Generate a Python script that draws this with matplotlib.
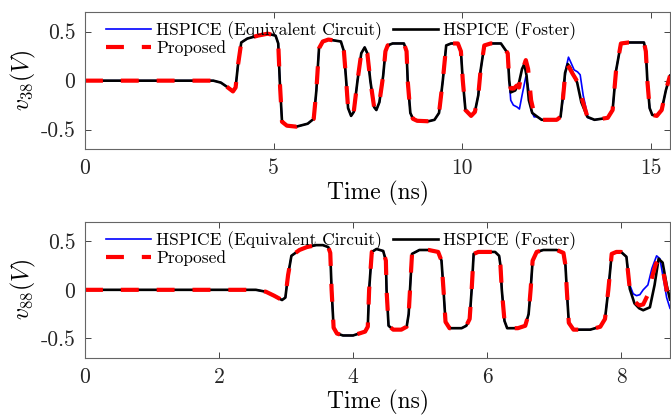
import numpy as np
import matplotlib
matplotlib.use("Agg")
import matplotlib.pyplot as plt

plt.rcParams["font.family"] = ["cmr10", "DejaVu Serif"]
plt.rcParams["mathtext.fontset"] = "cm"
plt.rcParams["axes.unicode_minus"] = False

# ---- upper panel: v38, HSPICE (Foster) trace ----
t38 = [0, 3.4, 3.6, 3.75, 3.92, 3.99, 4.05, 4.14, 4.3, 4.58, 4.84, 5.05, 5.12, 5.16,
       5.22, 5.35, 5.6, 5.9, 6.06, 6.13, 6.2, 6.3, 6.45, 6.78, 6.86, 6.92, 6.97, 7.05,
       7.12, 7.22, 7.32, 7.41, 7.48, 7.56, 7.66, 7.72, 7.8, 7.9, 7.96, 8.02, 8.15, 8.45,
       8.52, 8.55, 8.62, 8.69, 8.8, 9.1, 9.26, 9.38, 9.48, 9.57, 9.7, 9.88, 9.96, 10.01,
       10.08, 10.23, 10.33, 10.42, 10.48, 10.58, 10.75, 11.02, 11.2, 11.24, 11.28, 11.4,
       11.5, 11.58, 11.64, 11.7, 11.76, 11.85, 11.99, 12.1, 12.5, 12.6, 12.65, 12.72,
       12.79, 12.85, 12.92, 13.04, 13.15, 13.31, 13.5, 13.85, 13.98, 14.07, 14.2, 14.4,
       14.81, 14.86, 14.9, 14.96, 15.03, 15.15, 15.28, 15.39, 15.5]
v38_foster = [0, 0, -0.02, -0.06, -0.11, -0.07, 0.15, 0.39, 0.43, 0.46, 0.48, 0.46, 0.38, 0.0,
              -0.42, -0.46, -0.47, -0.44, -0.39, -0.1, 0.33, 0.40, 0.42, 0.40, 0.30, 0.0, -0.28, -0.36,
              -0.32, 0.0, 0.28, 0.34, 0.28, 0.0, -0.27, -0.30, -0.22, 0.05, 0.30, 0.36, 0.38, 0.38,
              0.30, 0.0, -0.33, -0.39, -0.41, -0.415, -0.40, -0.33, 0.0, 0.36, 0.38, 0.38, 0.30, 0.0,
              -0.30, -0.36, -0.32, -0.15, 0.1, 0.36, 0.38, 0.38, 0.28, 0.0, -0.12, -0.10,
              -0.02, 0.12, 0.17, 0.05, -0.2, -0.33, -0.37, -0.40, -0.40, -0.37, -0.2, 0.08,
              0.17, 0.14, 0.08, -0.02, -0.22, -0.37, -0.40, -0.38, -0.3, 0.1, 0.38, 0.39,
              0.39, 0.30, 0.0, -0.28, -0.35, -0.36, -0.30, -0.1, 0.05]

# where the other two traces leave the Foster one
t38_equiv_dev = [11.24, 11.28, 11.35, 11.45, 11.51, 11.58, 11.68, 11.74, 11.82, 11.9,
                 12.6, 12.66, 12.74, 12.81, 12.88, 12.96, 13.05, 13.12, 13.2, 13.33]
v38_equiv_dev = [0.0, -0.2, -0.25, -0.27, -0.29, -0.15, 0.04, -0.05, -0.3, -0.37,
                 -0.37, -0.2, 0.12, 0.24, 0.18, 0.11, 0.09, 0.06, -0.15, -0.38]
t38_prop_dev = [11.24, 11.28, 11.36, 11.44, 11.5, 11.58, 11.68, 11.74, 11.82, 11.92,
                12.6, 12.66, 12.72, 12.78, 12.85, 12.92, 13.0, 13.07, 13.18, 13.32]
v38_prop_dev = [0.0, -0.08, -0.08, -0.05, -0.07, 0.1, 0.21, 0.12, -0.2, -0.37,
                -0.37, -0.2, 0.05, 0.16, 0.12, 0.07, 0.02, -0.03, -0.2, -0.38]

# ---- lower panel: v88 ----
t88 = [0, 2.55, 2.7, 2.82, 2.94, 2.99, 3.03, 3.08, 3.2, 3.31, 3.45, 3.55, 3.63, 3.66, 3.68,
       3.71, 3.76, 3.85, 4.0, 4.18, 4.22, 4.24, 4.28, 4.35, 4.45, 4.49, 4.5, 4.53, 4.6,
       4.72, 4.8, 4.83, 4.85, 4.88, 4.99, 5.13, 5.27, 5.32, 5.35, 5.38, 5.44, 5.62, 5.69,
       5.74, 5.77, 5.8, 5.87, 6.12, 6.18, 6.2, 6.22, 6.26, 6.3, 6.46, 6.57, 6.62, 6.65,
       6.68, 6.74, 6.84, 7.04, 7.14, 7.17, 7.19, 7.22, 7.29, 7.54, 7.69, 7.76, 7.81, 7.86,
       7.93, 8.0, 8.08, 8.13, 8.2, 8.27, 8.33, 8.43, 8.5, 8.56, 8.62, 8.68, 8.73]
v88_foster = [0, 0, -0.02, -0.06, -0.105, -0.08, 0.15, 0.35, 0.41, 0.44, 0.46, 0.46, 0.44, 0.38, 0.0,
              -0.39, -0.45, -0.47, -0.47, -0.43, -0.38, 0.0, 0.39, 0.42, 0.40, 0.30, 0.0, -0.37, -0.41,
              -0.41, -0.38, -0.25, 0.0, 0.37, 0.41, 0.41, 0.39, 0.30, 0.0, -0.33, -0.395, -0.395, -0.37,
              -0.3, 0.0, 0.37, 0.39, 0.39, 0.35, 0.25, 0.0, -0.32, -0.395, -0.395, -0.37, -0.25, 0.0,
              0.3, 0.39, 0.41, 0.41, 0.38, 0.25, 0.0, -0.34, -0.41, -0.41, -0.38, -0.3, 0.0, 0.37,
              0.39, 0.39, 0.34, 0.01, -0.14, -0.19, -0.21, -0.18, 0.05, 0.32, 0.28, 0.05, -0.1]
t88_equiv_dev = [8.08, 8.13, 8.18, 8.23, 8.28, 8.33, 8.4, 8.46, 8.53, 8.58, 8.63, 8.68, 8.73]
v88_equiv_dev = [0.34, 0.05, -0.04, -0.06, -0.05, 0.0, 0.05, 0.22, 0.35, 0.32, 0.12, -0.08, -0.19]
t88_prop_dev = [8.08, 8.13, 8.2, 8.27, 8.33, 8.4, 8.47, 8.52, 8.57, 8.62, 8.68, 8.73]
v88_prop_dev = [0.34, 0.01, -0.12, -0.16, -0.15, -0.05, 0.15, 0.27, 0.31, 0.22, 0.0, -0.15]

series_names = ["HSPICE (Equivalent Circuit)", "HSPICE (Foster)", "Proposed"]
yticks = [-0.5, 0, 0.5]
ytick_labels = ["-0.5", "0", "0.5"]


def splice(t, v, t_dev, v_dev):
    # replace the base trace inside each deviation window
    t = np.asarray(t, float)
    v = np.asarray(v, float)
    t_dev = np.asarray(t_dev, float)
    v_dev = np.asarray(v_dev, float)
    # split deviation data into windows at jumps in time
    breaks = np.where(np.diff(t_dev) > 0.3)[0] + 1
    keep = np.ones_like(t, bool)
    for seg in np.split(np.arange(len(t_dev)), breaks):
        keep &= ~((t >= t_dev[seg[0]]) & (t <= t_dev[seg[-1]]))
    tt = np.concatenate([t[keep], t_dev])
    vv = np.concatenate([v[keep], v_dev])
    order = np.argsort(tt)
    return tt[order], vv[order]


fig = plt.figure(figsize=(6.71, 4.19), dpi=100)
ax1 = fig.add_axes([0.1267, 0.644, 0.8718, 0.327])
ax2 = fig.add_axes([0.1267, 0.146, 0.8718, 0.3246])

panels = [
    (ax1, t38, v38_foster, t38_equiv_dev, v38_equiv_dev, t38_prop_dev, v38_prop_dev,
     15.5, [0, 5, 10, 15], r"$v_{38}(V)$"),
    (ax2, t88, v88_foster, t88_equiv_dev, v88_equiv_dev, t88_prop_dev, v88_prop_dev,
     8.73, [0, 2, 4, 6, 8], r"$v_{88}(V)$"),
]

for ax, t, vf, te, ve, tp, vp, xmax, xticks, ylab in panels:
    te_full, ve_full = splice(t, vf, te, ve)
    tp_full, vp_full = splice(t, vf, tp, vp)
    h_eq, = ax.plot(te_full, ve_full, color="#0000ff", lw=1.2, label=series_names[0])
    h_fo, = ax.plot(t, vf, color="black", lw=1.9, label=series_names[1])
    h_pr, = ax.plot(tp_full, vp_full, color="#ff0000", lw=3.0, dashes=(4.3, 4.3),
                    label=series_names[2])
    ax.set_xlim(0, xmax)
    ax.set_ylim(-0.7, 0.7)
    ax.set_xticks(xticks)
    ax.set_xticklabels([str(x) for x in xticks])
    ax.set_yticks(yticks)
    ax.set_yticklabels(ytick_labels)
    ax.tick_params(direction="in", length=4, width=0.6, top=True, right=True,
                   labelsize=15.5, colors="#262626", pad=7)
    for s in ax.spines.values():
        s.set_color("#666666")
        s.set_linewidth(0.8)
    ax.set_xlabel("Time (ns)", fontsize=17, labelpad=2)
    ax.set_ylabel(ylab, fontsize=17, labelpad=2)
    ax.legend([h_eq, h_pr, h_fo], [series_names[0], series_names[2], series_names[1]],
              ncol=2, loc="upper left", bbox_to_anchor=(0.015, 1.02), frameon=False,
              fontsize=12.5, handlelength=2.6, handletextpad=0.3, columnspacing=0.6,
              labelspacing=0.0, borderpad=0.2)

fig.savefig("out.png", dpi=100)
